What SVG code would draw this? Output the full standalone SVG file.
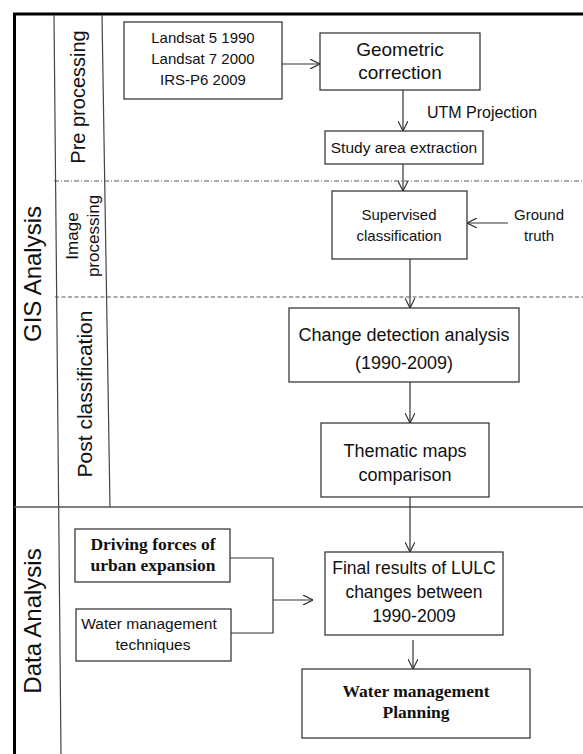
<svg xmlns="http://www.w3.org/2000/svg" width="583" height="754" viewBox="0 0 583 754">
<style>
.box{fill:#fff;stroke:#3a3a3a;stroke-width:1.3}
.ln{stroke:#333;stroke-width:1.2;fill:none}
.s{font-family:"Liberation Sans",Arial,sans-serif;fill:#111;text-anchor:middle}
.r{font-family:"Liberation Serif","Times New Roman",serif;font-weight:bold;fill:#111;text-anchor:middle}
</style>
<defs>
<marker id="ah" viewBox="0 0 10 10" refX="10" refY="5" markerWidth="10" markerHeight="10" markerUnits="userSpaceOnUse" orient="auto">
<path d="M0,0 L10,5 L0,10" fill="none" stroke="#333" stroke-width="1.2"/>
</marker>
</defs>
<rect width="583" height="754" fill="#fff"/>
<g id="frame">
<line x1="14.5" y1="14" x2="14.5" y2="754" stroke="#000" stroke-width="3"/>
<line x1="13" y1="14" x2="583" y2="14" stroke="#000" stroke-width="3"/>
<line x1="54" y1="15" x2="61" y2="754" stroke="#444" stroke-width="1.2"/>
<line x1="102" y1="15" x2="110" y2="507" stroke="#444" stroke-width="1.2"/>
<line x1="14" y1="507" x2="583" y2="507" stroke="#555" stroke-width="1.3"/>
<line x1="54" y1="181" x2="583" y2="181" stroke="#555" stroke-width="1" stroke-dasharray="5,2,1,2"/>
<line x1="55" y1="297" x2="583" y2="297" stroke="#555" stroke-width="1" stroke-dasharray="4,2.5"/>
<text class="s" font-size="24" transform="translate(41,274) rotate(-90)">GIS Analysis</text>
<text class="s" font-size="24" transform="translate(41,621) rotate(-90)">Data Analysis</text>
<text class="s" font-size="20" transform="translate(85,97) rotate(-90)">Pre processing</text>
<text class="s" font-size="17" transform="translate(78,236) rotate(-90)">Image</text>
<text class="s" font-size="17" transform="translate(99,236) rotate(-90)">processing</text>
<text class="s" font-size="21" transform="translate(92,394) rotate(-90)">Post classification</text>
</g>
<g id="landsat">
<rect class="box" x="124" y="22" width="158" height="77"/>
<text class="s" font-size="15"><tspan x="203" y="43">Landsat 5 1990</tspan><tspan x="203" y="64">Landsat 7 2000</tspan><tspan x="203" y="85">IRS-P6 2009</tspan></text>
</g>
<g id="geometric">
<rect class="box" x="320" y="33" width="160" height="57"/>
<text class="s" font-size="19"><tspan x="400" y="56">Geometric</tspan><tspan x="400" y="79">correction</tspan></text>
</g>
<g id="utm">
<text class="s" font-size="16" x="482" y="118">UTM Projection</text>
</g>
<g id="study">
<rect class="box" x="325" y="131" width="158" height="33"/>
<text class="s" font-size="15.5" x="404" y="153">Study area extraction</text>
</g>
<g id="supervised">
<rect class="box" x="332" y="191" width="135" height="68"/>
<text class="s" font-size="15"><tspan x="399" y="220">Supervised</tspan><tspan x="399" y="241">classification</tspan></text>
</g>
<g id="ground">
<text class="s" font-size="15"><tspan x="539" y="220">Ground</tspan><tspan x="539" y="241">truth</tspan></text>
</g>
<g id="change">
<rect class="box" x="289" y="308" width="230" height="74"/>
<text class="s" font-size="18"><tspan x="404" y="341">Change detection analysis</tspan><tspan x="404" y="369">(1990-2009)</tspan></text>
</g>
<g id="thematic">
<rect class="box" x="321" y="423" width="168" height="74"/>
<text class="s" font-size="18"><tspan x="405" y="457">Thematic maps</tspan><tspan x="405" y="481">comparison</tspan></text>
</g>
<g id="final">
<rect class="box" x="325" y="552" width="178" height="83"/>
<text class="s" font-size="17.5"><tspan x="414" y="574">Final results of LULC</tspan><tspan x="414" y="598">changes between</tspan><tspan x="414" y="622">1990-2009</tspan></text>
</g>
<g id="planning">
<rect class="box" x="302" y="669" width="228" height="69"/>
<text class="r" font-size="17.5"><tspan x="416" y="697">Water management</tspan><tspan x="416" y="718">Planning</tspan></text>
</g>
<g id="driving">
<rect class="box" x="75" y="529" width="155" height="53"/>
<text class="r" font-size="17.5"><tspan x="153" y="550">Driving forces of</tspan><tspan x="153" y="571">urban expansion</tspan></text>
</g>
<g id="techniques">
<rect class="box" x="76" y="609" width="155" height="52"/>
<text class="s" font-size="15.5"><tspan x="149" y="629">Water management</tspan><tspan x="153" y="650">techniques</tspan></text>
</g>
<g id="connectors">
<line class="ln" x1="282" y1="64" x2="320" y2="64" marker-end="url(#ah)"/>
<line class="ln" x1="403" y1="90" x2="403" y2="131" marker-end="url(#ah)"/>
<line class="ln" x1="403" y1="164" x2="403" y2="191" marker-end="url(#ah)"/>
<line class="ln" x1="508" y1="223" x2="467" y2="223" marker-end="url(#ah)"/>
<line class="ln" x1="410" y1="259" x2="410" y2="308" marker-end="url(#ah)"/>
<line class="ln" x1="410" y1="382" x2="410" y2="423" marker-end="url(#ah)"/>
<line class="ln" x1="410" y1="497" x2="410" y2="552" marker-end="url(#ah)"/>
<line class="ln" x1="413" y1="640" x2="413" y2="669" marker-end="url(#ah)"/>
<polyline class="ln" points="230,558 273,558 273,633 231,633"/>
<line class="ln" x1="273" y1="600" x2="313" y2="600" marker-end="url(#ah)"/>
</g>
</svg>
